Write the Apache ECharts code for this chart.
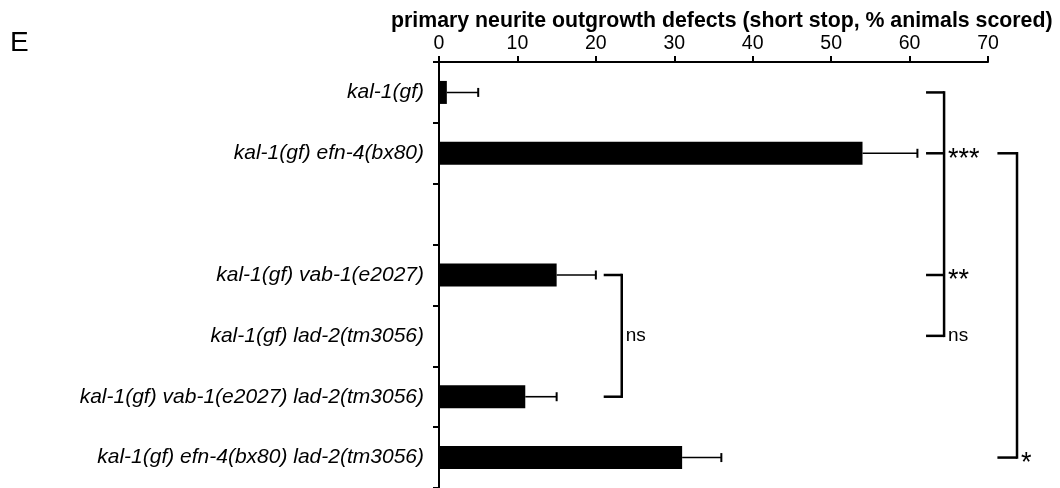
<!DOCTYPE html>
<html>
<head>
<meta charset="utf-8">
<title>Primary neurite outgrowth defects</title>
<script src="https://cdn.jsdelivr.net/npm/echarts@6.0.0/dist/echarts.min.js"></script>
<style>
  html, body { margin: 0; padding: 0; background: #fff; }
  #chart { width: 1060px; height: 488px; }
</style>
</head>
<body>
<div id="chart"></div>
<script>
// Genotypes, top to bottom (the empty entry is a spacer row)
const categories = [
  'kal-1(gf)',
  'kal-1(gf) efn-4(bx80)',
  '',
  'kal-1(gf) vab-1(e2027)',
  'kal-1(gf) lad-2(tm3056)',
  'kal-1(gf) vab-1(e2027) lad-2(tm3056)',
  'kal-1(gf) efn-4(bx80) lad-2(tm3056)'
];
// % animals with short-stop defects
const defectPercent = [1, 54, null, 15, 0, 11, 31];
// upper error (SEM)
const defectError = [4, 7, null, 5, null, 4, 5];

const xTicks = { min: 0, max: 70, interval: 10 };

// Significance brackets: [tick start (value), spine (value), first row, last row]
const bracketSpines = [
  [21, 23.3, 3, 5],
  [62.1, 64.4, 0, 4],
  [71.2, 73.7, 1, 6]
];
// Bracket arms and labels: [tick start, spine, row, label, draw arm]
const bracketMarks = [
  [21, 23.3, 3, '', 1],
  [21, 23.3, 4, 'ns', 0],
  [21, 23.3, 5, '', 1],
  [62.1, 64.4, 0, '', 1],
  [62.1, 64.4, 1, '***', 1],
  [62.1, 64.4, 3, '**', 1],
  [62.1, 64.4, 4, 'ns', 1],
  [71.2, 73.7, 1, '', 1],
  [71.2, 73.7, 6, '*', 1]
];

const FONT = '"Liberation Sans", Arial, Helvetica, sans-serif';

const errData = [];
defectPercent.forEach((v, i) => {
  if (v != null && defectError[i] != null) errData.push([v, i, defectError[i]]);
});

const chart = echarts.init(document.getElementById('chart'));
chart.setOption({
  backgroundColor: '#fff',
  animation: false,
  title: [
    {
      text: 'E', left: 5, top: 24,
      textStyle: { fontFamily: FONT, fontSize: 28, fontWeight: 'normal', color: '#000' }
    },
    {
      text: 'primary neurite outgrowth defects (short stop, % animals scored)',
      left: 386, top: 6,
      textStyle: { fontFamily: FONT, fontSize: 21.3, fontWeight: 'bold', color: '#000' }
    }
  ],
  grid: { left: 439, right: 72, top: 62, bottom: 0, containLabel: false, outerBoundsMode: 'none' },
  xAxis: {
    type: 'value',
    position: 'top',
    min: xTicks.min, max: xTicks.max, interval: xTicks.interval,
    axisLine: { show: true, lineStyle: { color: '#000', width: 2 } },
    axisTick: { show: true, length: 6, lineStyle: { color: '#000', width: 2 } },
    axisLabel: { color: '#000', fontFamily: FONT, fontSize: 19.5, margin: 8 },
    splitLine: { show: false }
  },
  yAxis: {
    type: 'category',
    inverse: true,
    data: categories,
    axisLine: { show: true, lineStyle: { color: '#000', width: 2 } },
    axisTick: { show: true, length: 6, alignWithLabel: false, lineStyle: { color: '#000', width: 2 } },
    axisLabel: { color: '#000', fontFamily: FONT, fontSize: 21, fontStyle: 'italic', margin: 15 },
    splitLine: { show: false }
  },
  series: [
    {
      type: 'bar',
      data: defectPercent,
      barWidth: 23,
      itemStyle: { color: '#000' },
      z: 2
    },
    {
      type: 'custom',
      data: errData,
      clip: false,
      z: 1,
      renderItem: function (params, api) {
        const v = api.value(0), row = api.value(1), e = api.value(2);
        const a = api.coord([v, row]);
        const b = api.coord([v + e, row]);
        return {
          type: 'group',
          children: [
            { type: 'line', shape: { x1: a[0], y1: a[1], x2: b[0], y2: b[1] },
              style: { stroke: '#000', lineWidth: 1.6 } },
            { type: 'line', shape: { x1: b[0], y1: b[1] - 4.5, x2: b[0], y2: b[1] + 4.5 },
              style: { stroke: '#000', lineWidth: 2 } }
          ]
        };
      }
    },
    {
      type: 'custom',
      data: bracketSpines,
      clip: false,
      renderItem: function (params, api) {
        const top = api.coord([api.value(1), api.value(2)]);
        const bot = api.coord([api.value(1), api.value(3)]);
        return { type: 'line', shape: { x1: top[0], y1: top[1] - 1.25, x2: bot[0], y2: bot[1] + 1.25 },
          style: { stroke: '#000', lineWidth: 2.5 } };
      }
    },
    {
      type: 'custom',
      data: bracketMarks.map(m => [m[0], m[1], m[2], m[4]]),
      clip: false,
      renderItem: function (params, api) {
        const idx = params.dataIndex;
        const label = bracketMarks[idx][3];
        const s = api.coord([api.value(0), api.value(2)]);
        const e = api.coord([api.value(1), api.value(2)]);
        const children = [];
        if (api.value(3)) {
          children.push({ type: 'line', shape: { x1: s[0], y1: s[1], x2: e[0], y2: e[1] },
            style: { stroke: '#000', lineWidth: 2.5 } });
        }
        if (label) {
          const isStar = label.charAt(0) === '*';
          children.push({
            type: 'text',
            style: {
              x: e[0] + 4, y: e[1] + (isStar ? 6 : 0),
              text: label,
              fill: '#000',
              font: (isStar ? '27px ' : '19px ') + FONT,
              textAlign: 'left', textVerticalAlign: 'middle'
            }
          });
        }
        return { type: 'group', children: children };
      }
    }
  ]
});
</script>
</body>
</html>
